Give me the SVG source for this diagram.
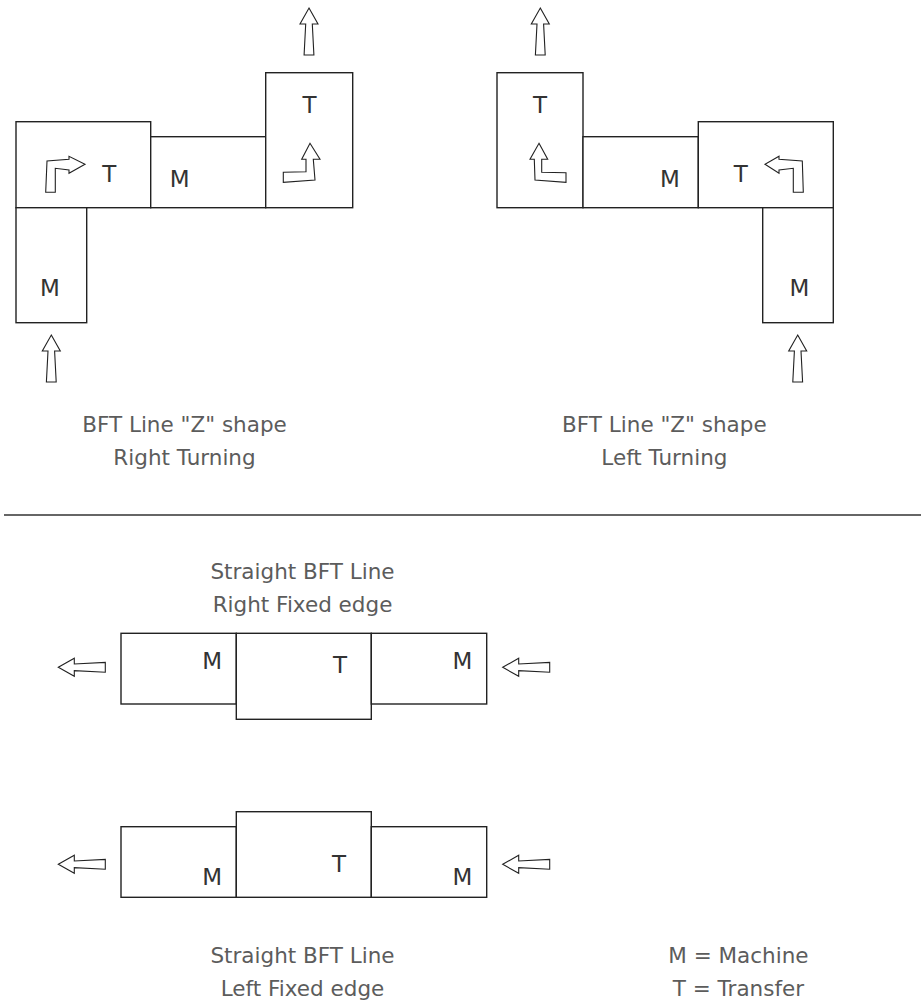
<svg xmlns="http://www.w3.org/2000/svg" xmlns:xlink="http://www.w3.org/1999/xlink" width="921" height="1002" viewBox="0 0 921 1002">
<style>
.box{fill:#fff;stroke:#222;stroke-width:1.4}
.lbl{font-family:"DejaVu Sans","Liberation Sans",sans-serif;font-size:23px;fill:#333;text-anchor:middle}
.cap{font-family:"DejaVu Sans","Liberation Sans",sans-serif;font-size:21.5px;fill:#5c5c5c;text-anchor:middle}
.arr{fill:#fff;stroke:#222;stroke-width:1.1;stroke-linejoin:miter}
.rule{stroke:#333;stroke-width:1.4}
</style>
<defs>
<polygon id="up" class="arr" points="0,0 9,16 3.3,16 4.9,47 -4.9,47 -3.3,16 -9,16"/>
</defs>
<rect width="921" height="1002" fill="#fff"/>

<g id="z-right">
<g id="zr-t1"><rect class="box" x="16" y="121.7" width="134.7" height="86"/><text class="lbl" x="109.3" y="181.7">T</text></g>
<g id="zr-m1"><rect class="box" x="150.7" y="136.7" width="115" height="71"/><text class="lbl" x="179.7" y="187.3">M</text></g>
<g id="zr-t2"><rect class="box" x="265.7" y="72.7" width="87" height="135"/><text class="lbl" x="309.5" y="113.3">T</text></g>
<g id="zr-m0"><rect class="box" x="16" y="207.7" width="70.7" height="115"/><text class="lbl" x="50" y="296">M</text></g>
</g>

<g id="z-left">
<g id="zl-t1"><rect class="box" x="497" y="72.7" width="86" height="135"/><text class="lbl" x="540" y="113.3">T</text></g>
<g id="zl-m1"><rect class="box" x="583" y="136.7" width="115.3" height="71"/><text class="lbl" x="670" y="187.3">M</text></g>
<g id="zl-t2"><rect class="box" x="698.3" y="121.7" width="135" height="86"/><text class="lbl" x="740.8" y="181.7">T</text></g>
<g id="zl-m0"><rect class="box" x="762.7" y="207.7" width="70.6" height="115"/><text class="lbl" x="799.5" y="296">M</text></g>
</g>

<g id="straight-right">
<g id="sr-m1"><rect class="box" x="121" y="633.3" width="115.3" height="70.7"/><text class="lbl" x="212.3" y="669.3">M</text></g>
<g id="sr-t"><rect class="box" x="236.3" y="633.3" width="135" height="86"/><text class="lbl" x="340" y="673.3">T</text></g>
<g id="sr-m2"><rect class="box" x="371.3" y="633.3" width="115.4" height="70.7"/><text class="lbl" x="462.5" y="669.3">M</text></g>
</g>

<g id="straight-left">
<g id="sl-m1"><rect class="box" x="121" y="826.7" width="115.3" height="70.6"/><text class="lbl" x="212.3" y="885">M</text></g>
<g id="sl-t"><rect class="box" x="236.3" y="811.7" width="135" height="85.6"/><text class="lbl" x="339" y="871.7">T</text></g>
<g id="sl-m2"><rect class="box" x="371.3" y="826.7" width="115.4" height="70.6"/><text class="lbl" x="462.5" y="885">M</text></g>
</g>

<g id="connectors">
<use xlink:href="#up" transform="translate(309,8)"/>
<use xlink:href="#up" transform="translate(51.3,335)"/>
<use xlink:href="#up" transform="translate(540.3,8)"/>
<use xlink:href="#up" transform="translate(797.7,335)"/>
<use xlink:href="#up" transform="translate(58.3,667.3) rotate(-90)"/>
<use xlink:href="#up" transform="translate(502.7,667.3) rotate(-90)"/>
<use xlink:href="#up" transform="translate(58.3,864.3) rotate(-90)"/>
<use xlink:href="#up" transform="translate(502.7,864.3) rotate(-90)"/>
<polygon class="arr" points="45.7,192.3 47,161 69,159.3 69,156.3 85,164.3 69,173.3 69,170 55.3,168.3 55.3,192.3"/>
<polygon class="arr" points="283.3,172.3 306,171.7 306,159.3 301.7,159.3 310,143.3 320,159.3 313.3,159.3 315,180 283.3,182.3"/>
<polygon class="arr" points="539,143.3 547.7,159.3 541.7,159.3 541.7,172.3 566,172.7 566,182.3 535,180 534.3,159.3 530,159.3"/>
<polygon class="arr" points="803.3,192.3 802.3,161 779,159.3 779,156.3 765,164.3 779,173.3 779,170 793.3,168.3 793.3,192.3"/>
</g>

<line class="rule" x1="4" y1="515" x2="921" y2="515"/>

<g id="captions">
<text class="cap" x="184.5" y="432">BFT Line "Z" shape</text>
<text class="cap" x="184.5" y="465">Right Turning</text>
<text class="cap" x="664.4" y="432">BFT Line "Z" shape</text>
<text class="cap" x="664.4" y="465">Left Turning</text>
<text class="cap" x="302.5" y="579">Straight BFT Line</text>
<text class="cap" x="302.5" y="612">Right Fixed edge</text>
<text class="cap" x="302.5" y="963">Straight BFT Line</text>
<text class="cap" x="302.5" y="996">Left Fixed edge</text>
<text class="cap" x="738.4" y="963">M = Machine</text>
<text class="cap" x="738.4" y="996">T = Transfer</text>
</g>
</svg>
